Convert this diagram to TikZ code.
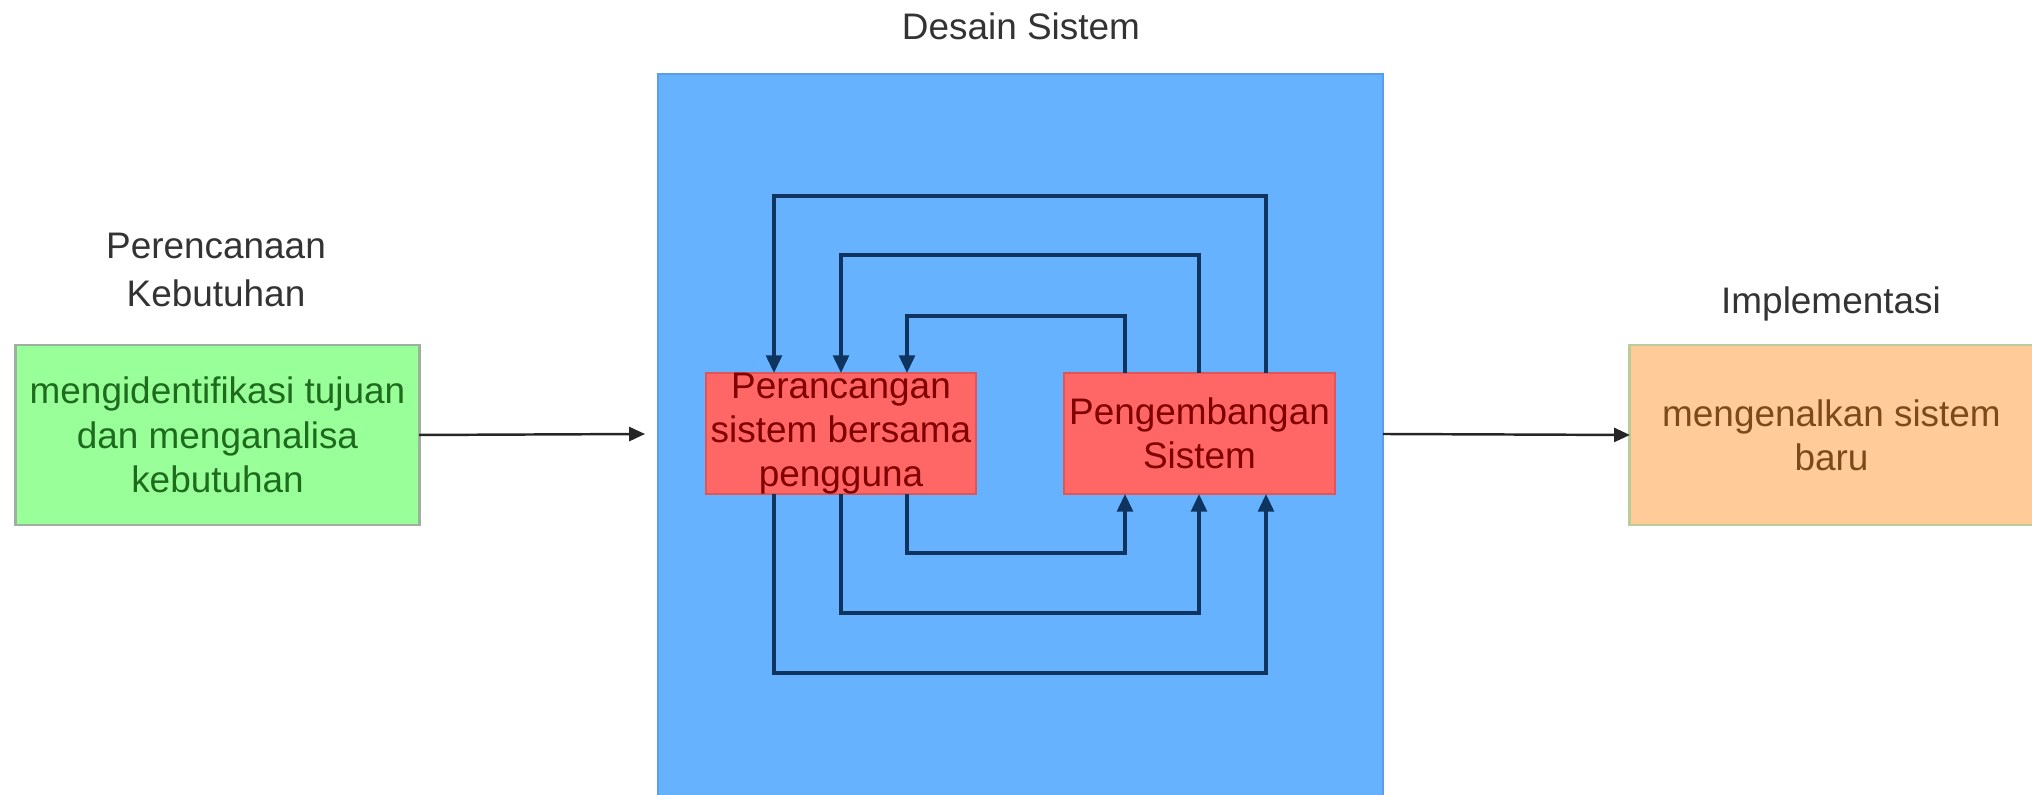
\documentclass[tikz,border=0pt]{standalone}
\usepackage{fontspec}
\setmainfont{Liberation Sans}
\usepackage{tikz}
\usetikzlibrary{arrows.meta}

\definecolor{bluefill}{HTML}{66B2FF}
\definecolor{blueline}{HTML}{5A9FE6}
\definecolor{redfill}{HTML}{FF6666}
\definecolor{redline}{HTML}{E05555}
\definecolor{redtext}{HTML}{800000}
\definecolor{greenfill}{HTML}{99FF99}
\definecolor{greenline}{HTML}{A0B0A0}
\definecolor{greentext}{HTML}{1E6B1E}
\definecolor{orangefill}{HTML}{FFCC99}
\definecolor{orangeline}{HTML}{B9CC9A}
\definecolor{orangetext}{HTML}{7A4A1A}
\definecolor{titletext}{HTML}{333333}
\definecolor{loopcolor}{HTML}{0F3460}

\tikzset{
	every node/.style={font=\fontsize{10.5}{12.6}\selectfont, inner sep=0pt, outer sep=0pt},
	title/.style={text=titletext, align=center},
	phasebox/.style={draw, line width=0.8pt, minimum width=4.03cm, minimum height=1.8cm, align=center},
	stagebox/.style={draw=redline, fill=redfill, line width=0.6pt, minimum width=2.7cm, minimum height=1.21cm},
	stagetext/.style={text=redtext, align=center},
	flowline/.style={draw=black!85, line width=0.7pt, -{Triangle[width=4pt,length=4.5pt]}},
	loopline/.style={draw=loopcolor, line width=0.9pt, -{Triangle[width=4.5pt,length=5pt]}},
}

\begin{document}
\begin{tikzpicture}[x=0.01cm, y=-0.01cm]

% frame %{{{2

	\useasboundingbox (0,0) rectangle (2032,795);

% desain sistem block %{{{2

	\fill[bluefill] (658,74) rectangle (1383,795);
	\draw[blueline, line width=0.6pt] (658,795) |- (1383,74) -- (1383,795);
	\coordinate (dsin) at (658,434);
	\coordinate (dsout) at (1383,434);

% phase boxes %{{{2

	\node[phasebox, draw=greenline, fill=greenfill, text=greentext] (kebutuhan) at (217.5,435)
		{mengidentifikasi tujuan\\dan menganalisa\\kebutuhan};
	\node[phasebox, draw=orangeline, fill=orangefill, text=orangetext] (implementasi) at (1831.5,435)
		{mengenalkan sistem\\baru};

% stage boxes %{{{2

	\node[stagebox] (perancangan) at (841,433.5) {};
	\node[stagetext] at (perancangan) {Perancangan\\sistem bersama\\pengguna};
	\node[stagebox] (pengembangan) at (1199.5,433.5) {};
	\node[stagetext] at (pengembangan) {Pengembangan\\Sistem};

% titles %{{{2

	\node[title] (t1) at (216,270) {Perencanaan\\[1pt]Kebutuhan};
	\node[title] (t2) at (1021,26) {Desain Sistem};
	\node[title] (t3) at (1831,304) {Implementasi};

% flow arrows %{{{2

	\draw[flowline] (kebutuhan.east) -- ([xshift=-0.13cm]dsin);
	\draw[flowline] (dsout) -- (implementasi.west);

% loops %{{{2

	\foreach \lx/\rx/\ty/\by in {774/1266/196/673, 841/1199/255/613, 907/1125/316/553} {
		\coordinate (tl) at (\lx,\ty);
		\coordinate (tr) at (\rx,\ty);
		\coordinate (bl) at (\lx,\by);
		\coordinate (br) at (\rx,\by);
		\draw[loopline] (pengembangan.north -| tr) -- (tr) -- (tl) -- (perancangan.north -| tl);
		\draw[loopline] (perancangan.south -| bl) -- (bl) -- (br) -- (pengembangan.south -| br);
	}

% closing %{{{2

\end{tikzpicture}
\end{document}
